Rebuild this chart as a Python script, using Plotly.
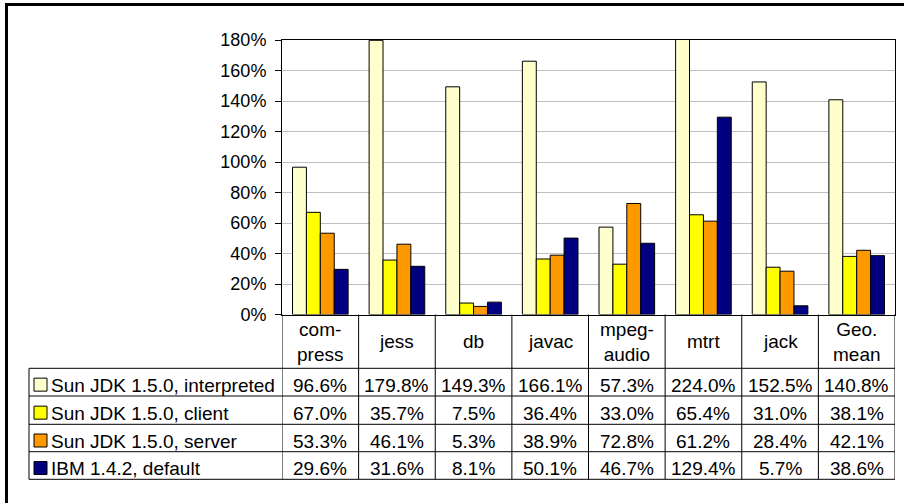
import plotly.graph_objects as go

# Benchmark categories (SPECjvm98 + geometric mean) and header labels
categories = ["compress", "jess", "db", "javac", "mpegaudio", "mtrt", "jack", "Geo. mean"]
header_labels = ["com-<br>press", "jess", "db", "javac", "mpeg-<br>audio", "mtrt", "jack", "Geo.<br>mean"]

series_names = [
    "Sun JDK 1.5.0, interpreted",
    "Sun JDK 1.5.0, client",
    "Sun JDK 1.5.0, server",
    "IBM 1.4.2, default",
]
interpreted = [96.6, 179.8, 149.3, 166.1, 57.3, 224.0, 152.5, 140.8]
client = [67.0, 35.7, 7.5, 36.4, 33.0, 65.4, 31.0, 38.1]
server = [53.3, 46.1, 5.3, 38.9, 72.8, 61.2, 28.4, 42.1]
ibm = [29.6, 31.6, 8.1, 50.1, 46.7, 129.4, 5.7, 38.6]
series_values = [interpreted, client, server, ibm]
series_colors = ["#FFFFCC", "#FFFF00", "#FF9900", "#000080"]

y_ticks = list(range(0, 181, 20))

W, H = 904, 503
FONT = "Liberation Sans, Arial, Helvetica, sans-serif"
FS = 18      # axis tick labels
TFS = 19     # table text


def px(x):
    return x / W


def py(y):
    return 1 - y / H


# layout geometry (pixels)
plot_left, plot_right = 282, 895
plot_top, plot_bottom = 40, 314.5
table_left = 29
row_lines = [368.3, 396, 424.3, 451.7, 479.3]
header_center = 341.5

fig = go.Figure()
xs = list(range(len(categories)))
for name, vals, col in zip(series_names, series_values, series_colors):
    fig.add_trace(go.Bar(
        x=xs, y=vals, name=name,
        marker=dict(color=col, line=dict(color="#000000", width=1)),
        showlegend=False,
    ))

shapes = []
annotations = []

# outer frame (left and top edges)
shapes.append(dict(type="line", xref="paper", yref="paper",
                   x0=px(6.5), x1=px(6.5), y0=py(3), y1=py(H + 5),
                   line=dict(color="black", width=3)))
shapes.append(dict(type="line", xref="paper", yref="paper",
                   x0=px(5), x1=px(W + 5), y0=py(4.5), y1=py(4.5),
                   line=dict(color="black", width=3)))

# column separators through the header and the data table
for i in range(len(categories) + 1):
    shapes.append(dict(type="line", xref="x", yref="paper",
                       x0=i - 0.5, x1=i - 0.5,
                       y0=py(plot_bottom), y1=py(row_lines[-1]),
                       line=dict(color="black", width=1)))
# table row lines
for yl in row_lines:
    shapes.append(dict(type="line", xref="paper", yref="paper",
                       x0=px(table_left), x1=px(plot_right),
                       y0=py(yl), y1=py(yl),
                       line=dict(color="black", width=1)))
# table left border
shapes.append(dict(type="line", xref="paper", yref="paper",
                   x0=px(table_left), x1=px(table_left),
                   y0=py(row_lines[0]), y1=py(row_lines[-1]),
                   line=dict(color="black", width=1)))

# header labels
for i, lab in enumerate(header_labels):
    annotations.append(dict(x=i, y=py(header_center), xref="x", yref="paper",
                            text=lab, showarrow=False, xanchor="center", yanchor="middle",
                            font=dict(family=FONT, size=TFS, color="black")))

# table rows: legend key, series name, values
for r, (name, vals, col) in enumerate(zip(series_names, series_values, series_colors)):
    yc = (row_lines[r] + row_lines[r + 1]) / 2 + 3
    shapes.append(dict(type="rect", xref="paper", yref="paper",
                       x0=px(34), x1=px(47), y0=py(yc - 7), y1=py(yc + 6),
                       fillcolor=col, line=dict(color="black", width=1)))
    annotations.append(dict(x=px(49), y=py(yc), xref="paper", yref="paper",
                            text=name, showarrow=False, xanchor="left", yanchor="middle",
                            font=dict(family=FONT, size=TFS, color="black")))
    for i, v in enumerate(vals):
        annotations.append(dict(x=i, y=py(yc), xref="x", yref="paper",
                                text=f"{v:.1f}%", showarrow=False,
                                xanchor="center", yanchor="middle",
                                font=dict(family=FONT, size=TFS, color="black")))

fig.update_layout(
    template="none",
    width=W, height=H,
    margin=dict(l=0, r=0, t=0, b=0, pad=0, autoexpand=False),
    paper_bgcolor="white", plot_bgcolor="white",
    barmode="group", bargap=0.274, bargroupgap=0,
    font=dict(family=FONT, size=FS, color="black"),
    xaxis=dict(domain=[px(plot_left), px(plot_right)], range=[-0.5, len(categories) - 0.5],
               showticklabels=False, ticks="", showgrid=False, zeroline=False, automargin=False,
               showline=True, linecolor="black", linewidth=1, mirror=True, fixedrange=True),
    yaxis=dict(domain=[py(plot_bottom), py(plot_top)], range=[0, 180],
               tickvals=y_ticks, ticktext=[f"{t}%" for t in y_ticks],
               ticks="outside", ticklen=6, tickcolor="black", ticklabelstandoff=5,
               showgrid=True, gridcolor="#C0C0C0", gridwidth=1, zeroline=False, automargin=False,
               showline=True, linecolor="black", linewidth=1, mirror=True,
               tickfont=dict(family=FONT, size=FS, color="black"), fixedrange=True),
    shapes=shapes, annotations=annotations,
)

fig.write_html("out.html")
